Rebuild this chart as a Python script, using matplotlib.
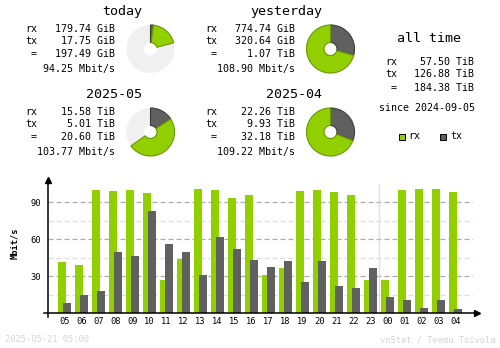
import numpy as np
import matplotlib.pyplot as plt

# hourly average rates (Mbit/s), 05:00 yesterday -> 04:00 today
hours = ["05", "06", "07", "08", "09", "10", "11", "12", "13", "14", "15", "16",
         "17", "18", "19", "20", "21", "22", "23", "00", "01", "02", "03", "04"]
rx_rate = [41.6, 39.2, 100.0, 99.2, 100.0, 97.6, 27.0, 44.0, 100.8, 100.0, 93.5, 96.0,
           31.0, 36.8, 99.2, 100.0, 98.4, 96.0, 27.0, 27.0, 100.0, 100.8, 100.8, 98.4]
tx_rate = [8.4, 14.8, 18.0, 49.7, 46.5, 83.0, 56.2, 49.7, 31.0, 62.0, 52.2, 43.2,
           37.6, 42.4, 25.4, 42.4, 22.2, 20.6, 36.8, 13.2, 10.8, 4.3, 10.8, 3.5]

# summary periods
periods = ["today", "yesterday", "2025-05", "2025-04"]
rx_tot = [179.74, 774.74, 15.58, 22.26]
tx_tot = [17.75, 320.64, 5.01, 9.93]
sum_tot = [197.49, 1.07, 20.60, 32.18]
units = [("GiB", "GiB", "GiB"), ("GiB", "GiB", "TiB"), ("TiB", "TiB", "TiB"), ("TiB", "TiB", "TiB")]
avg_rate = [94.25, 108.90, 103.77, 109.22]
elapsed = [5 / 24, 1.0, (20 + 5 / 24) / 31, 1.0]

alltime_rx, alltime_tx, alltime_sum = 57.50, 126.88, 184.38
since = "2024-09-05"

RX = "#92CF00"; TX = "#606060"
RX_EDGE = "#6A9800"; TX_EDGE = "#3C3C3C"
W, H = 500, 348
MONO = "DejaVu Sans Mono"

fig = plt.figure(figsize=(W / 100, H / 100), dpi=100)
fig.patch.set_facecolor("white")

def ftext(x, y, s, ha="left", size=7.2, color="black", **kw):
    fig.text(x / W, 1 - y / H, s, ha=ha, va="center", fontsize=size,
             family=MONO, color=color, **kw)

# summary blocks: (title right edge, text left, value right, title y, donut centre x, donut y)
blocks = [(142, 25, 115, 11, 150.5, 49), (322, 205, 295, 11, 330.5, 49),
          (142, 25, 115, 94, 150.5, 132), (322, 205, 295, 94, 330.5, 132)]
row_dy = [18, 30, 43, 58]
for k, (tr, lx, vr, ty, cx, cy) in enumerate(blocks):
    ftext(tr, ty, periods[k], ha="right", size=9.6)
    u = units[k]
    ftext(lx, ty + row_dy[0], "rx")
    ftext(vr, ty + row_dy[0], f"{rx_tot[k]:.2f} {u[0]}", ha="right")
    ftext(lx, ty + row_dy[1], "tx")
    ftext(vr, ty + row_dy[1], f"{tx_tot[k]:.2f} {u[1]}", ha="right")
    ftext(lx + 9, ty + row_dy[2], "=", ha="center")
    ftext(vr, ty + row_dy[2], f"{sum_tot[k]:.2f} {u[2]}", ha="right")
    ftext(vr, ty + row_dy[3], f"{avg_rate[k]:.2f} Mbit/s", ha="right")

    # donut: tx from 12 o'clock clockwise, then rx, rest of period in grey
    r = 24.5
    pax = fig.add_axes([(cx - r) / W, 1 - (cy + r) / H, 2 * r / W, 2 * r / H])
    pax.pie([1], colors=["#F0F0F0"], radius=1, wedgeprops=dict(width=0.73, linewidth=0))
    tot = rx_tot[k] + tx_tot[k]
    frac_tx = tx_tot[k] / tot * elapsed[k]
    frac_rx = rx_tot[k] / tot * elapsed[k]
    rest = max(0.0, 1 - frac_tx - frac_rx)
    wedges, _ = pax.pie([frac_tx, frac_rx, rest], startangle=90,
                        counterclock=False, normalize=False, radius=1,
                        colors=[TX, RX, "none"], wedgeprops=dict(width=0.73, linewidth=0.8))
    wedges[0].set_edgecolor(TX_EDGE)
    wedges[1].set_edgecolor(RX_EDGE)
    wedges[2].set_edgecolor("none")
    pax.set_xlim(-1.02, 1.02); pax.set_ylim(-1.02, 1.02)
    pax.axis("off")

# all time block
ftext(429, 39, "all time", ha="center", size=9.6)
ftext(385, 62, "rx"); ftext(474, 62, f"{alltime_rx:.2f} TiB", ha="right")
ftext(385, 74, "tx"); ftext(474, 74, f"{alltime_tx:.2f} TiB", ha="right")
ftext(393.5, 88, "=", ha="center"); ftext(474, 88, f"{alltime_sum:.2f} TiB", ha="right")
ftext(379, 108, "since " + since)

# legend squares
fig.patches.append(plt.Rectangle((398.5 / W, 1 - 140 / H), 6 / W, 6 / H, facecolor=RX,
                                 edgecolor="black", lw=0.7, transform=fig.transFigure))
fig.patches.append(plt.Rectangle((440 / W, 1 - 140 / H), 6 / W, 6 / H, facecolor=TX,
                                 edgecolor="black", lw=0.7, transform=fig.transFigure))
ftext(408, 136.5, "rx")
ftext(450, 136.5, "tx")

# hourly bar chart
x0, x1, y0, y1 = 48, 473, 313.3, 180
ax = fig.add_axes([x0 / W, 1 - y0 / H, (x1 - x0) / W, (y0 - y1) / H])
idx = np.arange(len(hours))
ax.set_xlim(-0.97, 24.03)
ax.set_ylim(0, (y0 - y1) / (37 / 30))
for v in [15, 45, 75]:
    ax.axhline(v, color="#DDDDDD", lw=0.9, dashes=(4, 2.4), zorder=0)
for v in [30, 60, 90]:
    ax.axhline(v, color="#AAAAAA", lw=0.9, dashes=(4, 2.4), zorder=0)
sep = hours.index("00") - 0.5
ax.axvline(sep, ymax=0.97, color="#DDDDDD", lw=0.9, zorder=0)
ax.bar(idx - 0.13, rx_rate, width=0.47, color=RX, zorder=2)
ax.bar(idx + 0.13, tx_rate, width=0.47, color=TX, zorder=3)

for s in ax.spines.values():
    s.set_visible(False)
# axis lines with arrow heads
ax.plot([-4 / 425, 429 / 425], [0, 0], transform=ax.transAxes, color="black",
        lw=1.1, clip_on=False, zorder=4)
ax.plot([0, 0], [-3.7 / 133.3, 1], transform=ax.transAxes, color="black",
        lw=1.1, clip_on=False, zorder=4)
ax.plot([429 / 425], [0], marker=">", ms=4, color="black", transform=ax.transAxes, clip_on=False)
ax.plot([0], [1], marker="^", ms=4, color="black", transform=ax.transAxes, clip_on=False)

ax.set_xticks(idx)
ax.set_xticklabels(hours, family=MONO, fontsize=6.3)
ax.set_yticks([30, 60, 90])
ax.set_yticklabels(["30", "60", "90"], family=MONO, fontsize=6.3)
ax.tick_params(length=0, pad=3)
ax.tick_params(axis="y", pad=5)
ftext(15, 243, "Mbit/s", ha="center", size=6.3, fontweight="bold", rotation=90)

ftext(5, 340, "2025-05-21 05:00", size=6.3, color="#D4D4D4")
ftext(495, 340, "vnStat / Teemu Toivola", ha="right", size=6.3, color="#D4D4D4")

fig.savefig("out.png", dpi=100, facecolor="white")
